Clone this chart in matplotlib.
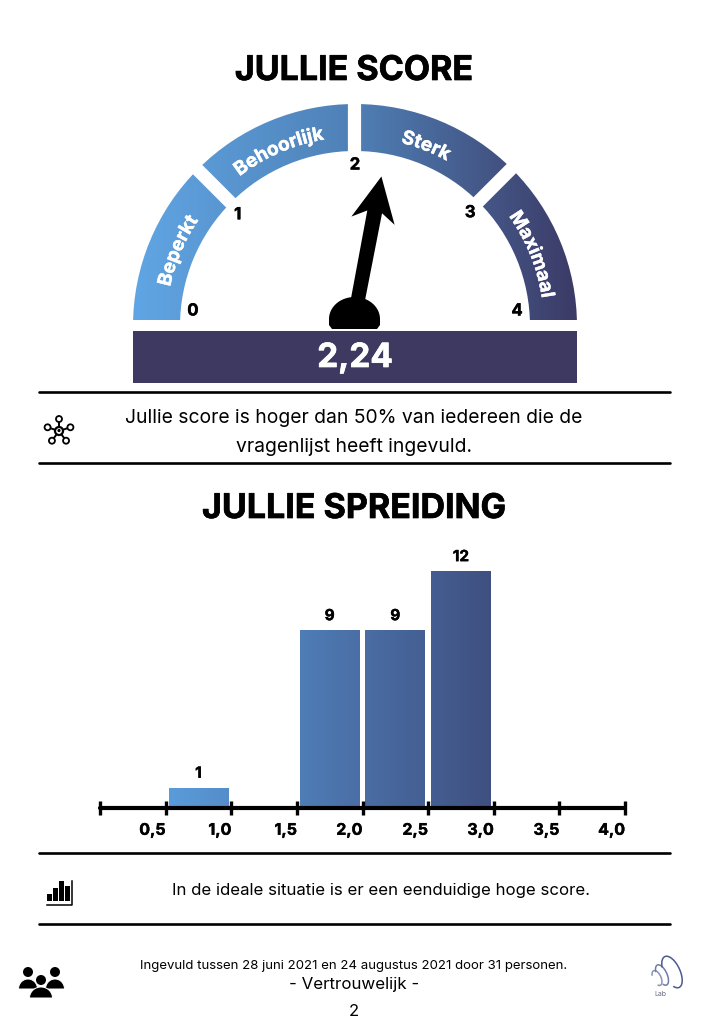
import numpy as np
import matplotlib
matplotlib.use("Agg")
import matplotlib.pyplot as plt
import matplotlib.patheffects as pe
from matplotlib.colors import LinearSegmentedColormap
from matplotlib.font_manager import FontProperties
from matplotlib.patches import Wedge, Rectangle, Polygon, Circle, Arc
from matplotlib.textpath import TextToPath

FONT = "Inter"
plt.rcParams["font.family"] = [FONT, "DejaVu Sans"]

score = 2.24
score_label = "2,24"
gauge_labels = ["Beperkt", "Behoorlijk", "Sterk", "Maximaal"]
gauge_label_angles = [157, 113.5, 68.5, 22]
gauge_ticks = ["0", "1", "2", "3", "4"]
gauge_tick_angles = [174, 136, 90, 45, 6]
gauge_gaps = [45, 90, 135]

bin_centers = [0.75, 1.75, 2.25, 2.75]
bin_counts = [1, 9, 9, 12]
axis_ticks = [0, 0.5, 1.0, 1.5, 2.0, 2.5, 3.0, 3.5, 4.0]
axis_labels = ["", "0,5", "1,0", "1,5", "2,0", "2,5", "3,0", "3,5", "4,0"]

title_top = "JULLIE SCORE"
title_bottom = "JULLIE SPREIDING"
note_top = ["Jullie score is hoger dan 50% van iedereen die de", "vragenlijst heeft ingevuld."]
note_bottom = "In de ideale situatie is er een eenduidige hoge score."
footer = "Ingevuld tussen 28 juni 2021 en 24 augustus 2021 door 31 personen."

cmap_gauge = LinearSegmentedColormap.from_list("g", ["#60a6e4", "#4f80b6", "#3c3a66"])
cmap_bars = LinearSegmentedColormap.from_list("b", ["#5a9cdb", "#3f4f80"])
DARK = "#3d3960"
CX, CY = 355, 326
HEAVY = [pe.withStroke(linewidth=0.5, foreground="black")]
HEAVY_SMALL = [pe.withStroke(linewidth=0.3, foreground="black")]
HEAVY_WHITE = [pe.withStroke(linewidth=0.5, foreground="white")]


def arc_text(ax, s, angle, radius, size):
    prop = FontProperties(family=FONT, weight="bold", size=size)
    t2p = TextToPath()
    widths = [t2p.get_text_width_height_descent(c, prop, False)[0] * 100 / 72 for c in s]
    a = np.radians(angle) + sum(widths) / (2 * radius)
    for c, w in zip(s, widths):
        a -= w / (2 * radius)
        ax.text(CX + radius * np.cos(a), CY - radius * np.sin(a), c, color="white", fontproperties=prop,
                rotation=np.degrees(a) - 90, rotation_mode="anchor", ha="center", va="baseline", zorder=3,
                path_effects=[pe.withStroke(linewidth=0.3, foreground="white")])
        a -= w / (2 * radius)


def draw_network(ax, x, y):
    for a in [90, 162, 234, 306, 18]:
        px, py = x + 12 * np.cos(np.radians(a)), y - 12 * np.sin(np.radians(a))
        ax.plot([x, px], [y, py], color="black", lw=1.4)
        ax.add_patch(Circle((px, py), 3, fc="white", ec="black", lw=1.3, zorder=3))
    ax.add_patch(Circle((x, y), 4, fc="white", ec="black", lw=1.6, zorder=3))
    ax.add_patch(Circle((x, y - 0.5), 1.6, fc="black", ec="none", zorder=4))


def draw_person(ax, x, head_y, head_r, body_w, body_h):
    ax.add_patch(Circle((x, head_y), head_r, fc="black", ec="none", zorder=4))
    t = np.linspace(np.pi, 0, 30)
    top = head_y + head_r + 2
    pts = [(x + body_w / 2 * np.cos(a), top + body_h - body_h * np.sin(a)) for a in t]
    ax.add_patch(Polygon(pts, fc="black", ec="white", lw=0.7, zorder=4))


def draw_people(ax):
    draw_person(ax, 28, 972, 5, 19, 10)
    draw_person(ax, 55, 972, 5, 19, 10)
    draw_person(ax, 41, 980, 5, 23, 11)


def draw_bars_icon(ax, x, y):
    for dx, top in [(0, 13), (6, 7), (12, 0), (18, 5)]:
        ax.add_patch(Rectangle((x + dx, y + top), 4.5, 20 - top, fc="black", ec="none"))
    ax.plot([x - 0.5, x + 25, x + 25], [y + 24, y + 24, y], color="black", lw=1.1)


def draw_logo(ax):
    arcs = [(657, 978, 8, 16, "#8a93b8"), (662, 975, 10, 22, "#6f7ba8"), (672, 972, 16, 34, "#4d5a90")]
    for x, y, w, h, c in arcs:
        ax.add_patch(Arc((x, y), w, h, angle=-25, theta1=-130, theta2=110, color=c, lw=1.1))
    ax.text(660, 994, "Lab", fontsize=5, color="#666c80", ha="center", va="center")


fig = plt.figure(figsize=(7.09, 10.24), dpi=100)
bg = fig.add_axes([0, 0, 1, 1])
bg.set_xlim(0, 709)
bg.set_ylim(1024, 0)
bg.axis("off")

bg.text(354, 71, title_top, fontsize=24.5, fontweight="bold", ha="center", va="center", path_effects=HEAVY)
bg.text(354, 509, title_bottom, fontsize=24.5, fontweight="bold", ha="center", va="center", path_effects=HEAVY)

# gauge, y axis runs downward so the top half is 180-360
ring = Wedge((CX, CY), 222, 180, 360, width=47, fc="none", ec="none")
bg.add_patch(ring)
grad = np.linspace(0, 1, 256)[None, :]
im = bg.imshow(grad, extent=(133, 577, 320, 104), cmap=cmap_gauge, aspect="auto", zorder=1)
im.set_clip_path(ring)
bg.set_xlim(0, 709)
bg.set_ylim(1024, 0)
for a in gauge_gaps:
    r0, r1 = 150, 240
    bg.plot([CX - 1 + r0 * np.cos(np.radians(a)), CX - 1 + r1 * np.cos(np.radians(a))],
            [CY - r0 * np.sin(np.radians(a)), CY - r1 * np.sin(np.radians(a))],
            color="white", lw=9.5, zorder=2, solid_capstyle="butt")
for s, a in zip(gauge_labels, gauge_label_angles):
    arc_text(bg, s, a, 189, 13.7)
for s, a in zip(gauge_ticks, gauge_tick_angles):
    bg.text(CX + 163 * np.cos(np.radians(a)), CY + 2 - 163 * np.sin(np.radians(a)), s,
            fontsize=12, fontweight="bold", ha="center", va="center", path_effects=HEAVY_SMALL)

# needle, angle follows the score
needle = np.radians(180 - score / 4 * 180)
ux, uy = np.cos(needle), -np.sin(needle)
vx, vy = -uy, ux
local = [(0, -7), (105, -7.5), (96, -22), (141, 0), (96, 22), (105, 7.5), (0, 7)]
bg.add_patch(Polygon([(CX + al * ux + p * vx, 315 + al * uy + p * vy) for al, p in local],
                     fc="black", ec="none", zorder=4))
t = np.linspace(np.pi, 0, 40)
dome = [(354.5 + 25.5 * np.cos(a), 319 - 22 * np.sin(a)) for a in t]
dome += [(380, 325), (377, 329), (332, 329), (329, 325)]
bg.add_patch(Polygon(dome, fc="black", ec="none", zorder=4))

bg.add_patch(Rectangle((133, 331), 444, 52, fc=DARK, ec="none"))
bg.text(355, 358, score_label, color="white", fontsize=24, fontweight="bold", ha="center", va="center",
        path_effects=HEAVY_WHITE)

for y in [392, 463, 853, 924]:
    bg.plot([39, 670], [y, y], color="black", lw=1.9, solid_capstyle="round")
bg.text(354, 418, note_top[0], fontsize=13.9, ha="center", va="center")
bg.text(354, 447, note_top[1], fontsize=13.9, ha="center", va="center")
bg.text(381, 891, note_bottom, fontsize=12.1, ha="center", va="center")
bg.text(354, 965.5, footer, fontsize=9.5, ha="center", va="center")
bg.text(354, 985, "- Vertrouwelijk -", fontsize=12.2, ha="center", va="center")
bg.text(354, 1011, "2", fontsize=12, ha="center", va="center")

draw_network(bg, 59, 431)
draw_bars_icon(bg, 47, 881)
draw_people(bg)
draw_logo(bg)

# histogram
ax = fig.add_axes([100 / 709, (1024 - 807.5) / 1024, 525 / 709, 256 / 1024])
ax.patch.set_alpha(0)
bars = ax.bar(bin_centers, bin_counts, width=0.455, color="none", edgecolor="none")
for b, n in zip(bars, bin_counts):
    x0, x1 = b.get_x(), b.get_x() + b.get_width()
    im = ax.imshow(np.linspace(x0, x1, 40)[None, :], extent=(x0, x1, 0, n), cmap=cmap_bars,
                   vmin=0.5, vmax=3.0, aspect="auto", zorder=1)
    im.set_clip_path(b)
    ax.annotate(str(n), (x0 + b.get_width() / 2, n), xytext=(0, 10.5), textcoords="offset points",
                ha="center", va="center", fontsize=11, fontweight="bold", path_effects=HEAVY_SMALL)
ax.set_xlim(0, 4)
ax.set_ylim(0, 13)
for s in ["top", "left", "right"]:
    ax.spines[s].set_visible(False)
ax.spines["bottom"].set_linewidth(3)
ax.spines["bottom"].set_capstyle("round")
ax.set_yticks([])
ax.set_xticks(axis_ticks)
ax.set_xticklabels(axis_labels, fontsize=11.5, fontweight="bold", ha="right", path_effects=HEAVY_SMALL)
ax.tick_params(axis="x", direction="inout", length=10, width=2.4, pad=6)

fig.savefig("out.png", dpi=100)
